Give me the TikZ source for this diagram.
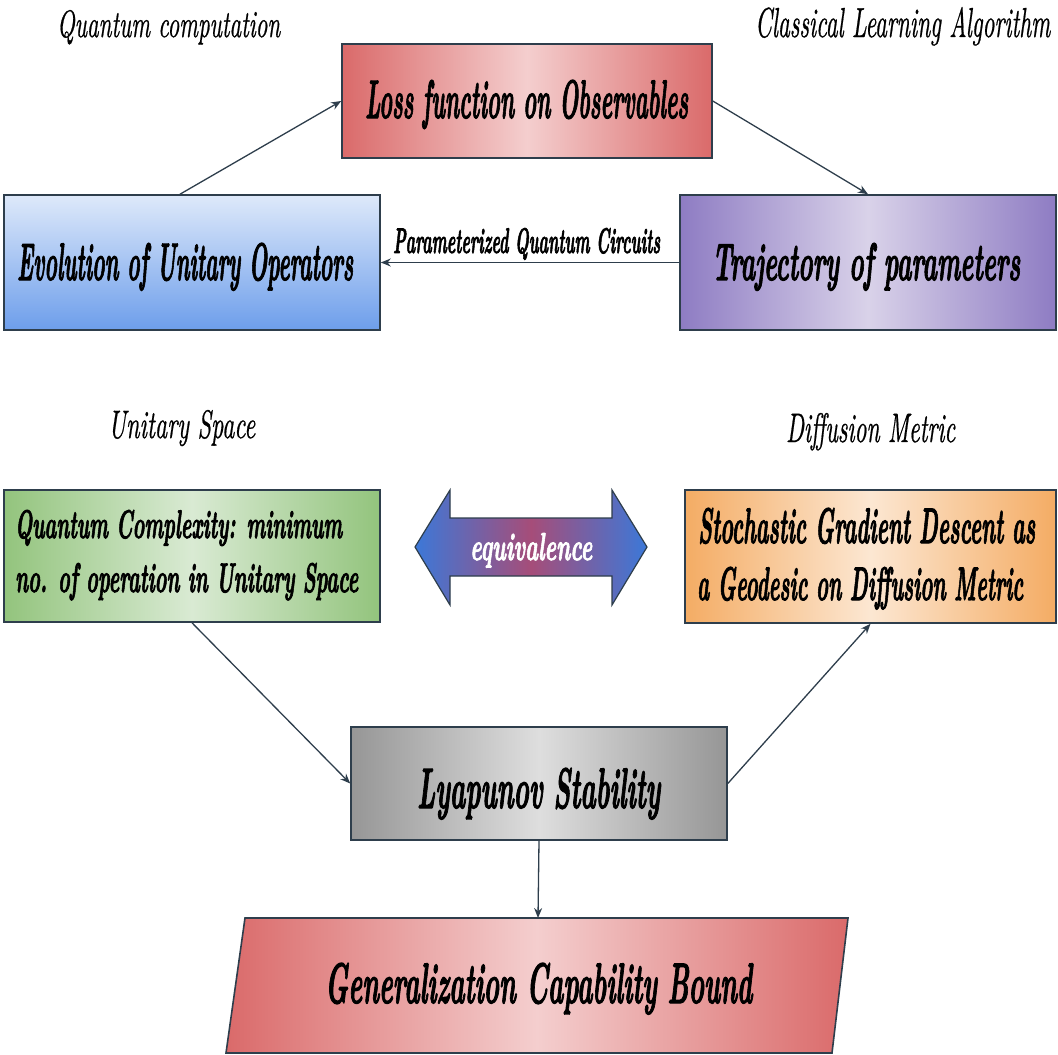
\documentclass[tikz,border=0pt]{standalone}
\usepackage{fontspec}
\usepackage{graphicx}
\usetikzlibrary{arrows.meta}
\newfontfamily\heavy{lmroman10-bolditalic.otf}[FakeBold=2.5]
\newfontfamily\light{lmroman10-italic.otf}[FakeBold=0.8]
\definecolor{edgec}{RGB}{46,62,76}
\definecolor{redE}{RGB}{218,106,106}
\definecolor{redM}{RGB}{244,206,206}
\definecolor{blueT}{RGB}{222,233,250}
\definecolor{blueB}{RGB}{109,158,235}
\definecolor{purE}{RGB}{142,124,195}
\definecolor{purM}{RGB}{217,210,233}
\definecolor{grnE}{RGB}{147,196,125}
\definecolor{grnM}{RGB}{217,234,211}
\definecolor{orgE}{RGB}{244,172,100}
\definecolor{orgM}{RGB}{252,231,210}
\definecolor{gryE}{RGB}{150,150,150}
\definecolor{gryM}{RGB}{222,222,222}
\definecolor{eqE}{RGB}{60,120,216}
\definecolor{eqM}{RGB}{166,77,121}
\newcommand{\fitxt}[3]{\resizebox{#1pt}{#2pt}{#3}}
\begin{document}
\begin{tikzpicture}[x=1pt,y=-1pt,
  box/.style={draw=edgec, line width=1.6pt, rectangle, inner sep=0pt},
  conn/.style={draw=edgec, line width=1.3pt, -{Stealth[length=10pt,width=8pt]}},
  txt/.style={inner sep=0pt, anchor=base west, font=\heavy},
  lab/.style={inner sep=0pt, anchor=base west, font=\light},
]
\useasboundingbox (0,0) rectangle (1058,1055);

% boxes
\node[box, minimum width=370pt, minimum height=114pt, left color=redE, right color=redE, middle color=redM] (loss) at (527,101) {};
\node[box, minimum width=376pt, minimum height=135pt, top color=blueT, bottom color=blueB] (evo) at (192,262.5) {};
\node[box, minimum width=376pt, minimum height=135pt, left color=purE, right color=purE, middle color=purM] (traj) at (868,262.5) {};
\node[box, minimum width=376pt, minimum height=132pt, left color=grnE, right color=grnE, middle color=grnM] (qc) at (192,556) {};
\node[box, minimum width=371pt, minimum height=133pt, left color=orgE, right color=orgE, middle color=orgM] (sgd) at (870.5,556.5) {};
\node[box, minimum width=376pt, minimum height=113pt, left color=gryE, right color=gryE, middle color=gryM] (lya) at (539,783.5) {};

% parallelogram
\draw[draw=edgec, line width=1.6pt, left color=redE, right color=redE, middle color=redM]
  (245,918) -- (848,918) -- (832,1053) -- (226,1053) -- cycle;
\coordinate (gentop) at (538,918);

% double arrow
\draw[draw=edgec, line width=1.2pt, left color=eqE, right color=eqE, middle color=eqM]
  (415,547) -- (450,490) -- (450,518) -- (612,518) -- (612,490) -- (647,547)
  -- (612,605) -- (612,576) -- (450,576) -- (450,605) -- cycle;

% box texts
\node[txt] (lossT) at (365,118) {\fitxt{323}{38}{Loss function on Observables}};
\node[txt] (evoT) at (17,280) {\fitxt{336}{37}{Evolution of Unitary Operators}};
\node[txt] (trajT) at (712,280) {\fitxt{308}{37}{Trajectory of parameters}};
\node[txt] (qcT1) at (15,538) {\fitxt{327}{28}{Quantum Complexity: minimum}};
\node[txt] (qcT2) at (15,592) {\fitxt{343}{29}{no. of operation in Unitary Space}};
\node[txt] (sgdT1) at (698,543) {\fitxt{337}{35}{Stochastic Gradient Descent as}};
\node[txt] (sgdT2) at (697,600) {\fitxt{326}{33}{a Geodesic on Diffusion Metric}};
\node[txt] (lyaT) at (417,808) {\fitxt{243}{40}{Lyapunov Stability}};
\node[txt] (genT) at (325,1003) {\fitxt{427}{40}{Generalization Capability Bound}};
\node[txt, text=white] (eqT) at (470,560) {\fitxt{122}{27}{equivalence}};

% labels
\node[lab] (labQC) at (57,37) {\fitxt{223}{27}{Quantum computation}};
\node[lab] (labCL) at (755,37) {\fitxt{295}{30}{Classical Learning Algorithm}};
\node[lab] (labUS) at (108,438) {\fitxt{147}{28}{Unitary Space}};
\node[lab] (labDM) at (786,442) {\fitxt{169}{29}{Diffusion Metric}};

% connectors
\draw[conn] ([xshift=-12pt]evo.north) -- (loss.west);
\draw[conn] (loss.east) -- (traj.north);
\draw[conn] (traj.west) -- (evo.east);
\node[txt] (paramT) at (393,253) {\fitxt{267}{25}{Parameterized Quantum Circuits}};
\draw[conn] (qc.south) -- (lya.west);
\draw[conn] (lya.east) -- (sgd.south);
\draw[conn] (lya.south) -- (gentop);
\end{tikzpicture}
\end{document}
